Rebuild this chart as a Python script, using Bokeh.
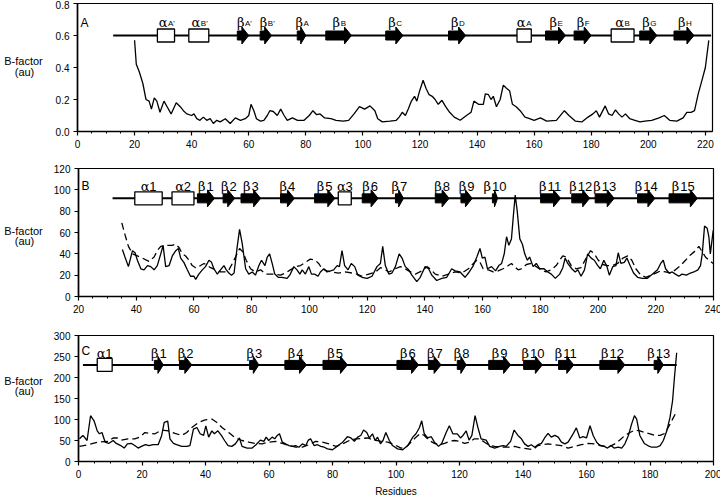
from bokeh.plotting import figure
from bokeh.models import Range1d, SingleIntervalTicker, NumeralTickFormatter, Label
from bokeh.layouts import column, row
from bokeh.core.properties import value
from bokeh.embed import file_html
from bokeh.resources import INLINE

SANS = "Liberation Sans"
GREEK = "DejaVu Serif"
FW = 635          # frame width (px)
LW = 50           # width of the left strip holding the y-axis title

# ---------------- Panel A data ----------------
a_res = [20.0, 20.6, 21.7, 22.9, 24.0, 25.1, 25.9, 26.9, 27.8, 28.9,
         30.3, 31.4, 32.8, 34.6, 36.0, 37.1, 38.3, 40.0, 40.8, 41.8,
         42.9, 44.1, 45.3, 46.5, 47.6, 48.8, 50.0, 51.8, 53.5, 55.3,
         57.1, 58.8, 60.0, 60.8, 61.8, 62.7, 64.1, 65.3, 66.5, 67.4,
         68.6, 70.0, 71.2, 72.4, 73.5, 75.3, 77.1, 79.4, 81.2, 82.5,
         83.8, 85.0, 86.6, 88.8, 90.6, 93.1, 95.0, 96.9, 98.8, 100.6,
         102.5, 104.2, 105.2, 106.8, 109.5, 111.7, 112.7, 113.8, 114.9, 115.9,
         117.0, 118.1, 118.9, 119.9, 121.1, 122.1, 123.2, 124.3, 125.3, 126.4,
         127.7, 129.0, 130.4, 132.0, 134.1, 136.3, 137.9, 138.9, 140.5, 142.2,
         142.9, 144.0, 144.9, 145.7, 146.8, 148.1, 149.2, 150.3, 151.4, 152.4,
         153.7, 155.1, 156.8, 158.4, 160.0, 162.2, 164.4, 167.8, 170.6, 172.2,
         174.4, 176.7, 178.9, 180.6, 181.8, 182.9, 184.9, 186.1, 187.3, 188.5,
         189.6, 190.8, 192.0, 193.5, 195.3, 197.1, 198.8, 201.2, 203.8, 205.6,
         207.5, 210.0, 212.2, 213.5, 215.0, 216.2, 217.5, 218.8, 220.0, 221.2]
a_bf = [0.57, 0.42, 0.37, 0.30, 0.20, 0.19, 0.14, 0.21, 0.19, 0.12,
        0.19, 0.155, 0.11, 0.18, 0.155, 0.13, 0.11, 0.10, 0.11, 0.08,
        0.07, 0.09, 0.07, 0.08, 0.05, 0.07, 0.06, 0.08, 0.05, 0.085,
        0.07, 0.08, 0.10, 0.17, 0.13, 0.08, 0.065, 0.07, 0.10, 0.13,
        0.125, 0.10, 0.14, 0.10, 0.07, 0.085, 0.07, 0.07, 0.10, 0.13,
        0.105, 0.11, 0.085, 0.08, 0.07, 0.065, 0.07, 0.11, 0.155, 0.14,
        0.16, 0.13, 0.08, 0.06, 0.065, 0.07, 0.09, 0.12, 0.10, 0.14,
        0.19, 0.22, 0.19, 0.255, 0.32, 0.27, 0.23, 0.22, 0.20, 0.17,
        0.195, 0.155, 0.12, 0.09, 0.07, 0.10, 0.12, 0.19, 0.17, 0.17,
        0.235, 0.23, 0.20, 0.22, 0.155, 0.20, 0.29, 0.27, 0.255, 0.17,
        0.155, 0.13, 0.09, 0.08, 0.07, 0.085, 0.065, 0.07, 0.13, 0.10,
        0.065, 0.06, 0.09, 0.11, 0.13, 0.09, 0.16, 0.11, 0.10, 0.135,
        0.11, 0.09, 0.11, 0.08, 0.07, 0.06, 0.065, 0.07, 0.085, 0.10,
        0.07, 0.065, 0.085, 0.12, 0.12, 0.13, 0.235, 0.32, 0.40, 0.57]

a_line = [12.5, 222.0]
a_helix_start = [28, 39, 154, 187]
a_helix_end = [34, 46, 159, 195]
a_helix_sub = ["A'", "B'", "A", "B"]
a_strand_start = [56, 64, 77, 87, 108, 130, 164, 174, 197, 209]
a_strand_end = [60, 68, 80, 96, 114, 136, 171, 180, 203, 216]
a_strand_sub = ["A'", "B'", "A", "B", "C", "D", "E", "F", "G", "H"]

# ---------------- Panel B data ----------------
b_res_solid = [35.2, 36.1, 37.3, 38.7, 39.6, 40.4, 41.6, 42.7, 43.9, 45.0,
               46.2, 47.3, 48.5, 49.3, 50.2, 51.4, 52.5, 53.7, 54.6, 55.4,
               56.5, 57.7, 58.8, 60.0, 60.6, 61.7, 62.9, 64.0, 65.2, 66.1,
               66.9, 68.1, 69.2, 70.4, 71.2, 72.1, 73.0, 73.9, 75.0, 75.8,
               76.7, 77.9, 79.0, 80.2, 81.3, 82.5, 83.4, 84.6, 85.4, 86.2,
               87.1, 88.0, 89.2, 90.5, 92.3, 93.4, 94.6, 95.7, 96.7, 97.5,
               98.6, 99.8, 100.7, 101.8, 103.0, 103.8, 105.0, 106.1, 107.3, 108.4,
               109.6, 110.4, 111.3, 112.2, 113.4, 114.5, 115.7, 116.8, 118.2, 120.0,
               121.7, 123.4, 124.6, 125.4, 126.3, 127.5, 128.6, 129.8, 131.1, 132.1,
               133.2, 134.4, 135.5, 137.2, 138.4, 140.1, 141.3, 142.4, 144.1, 145.9,
               147.6, 149.3, 150.5, 152.2, 153.9, 155.1, 156.8, 158.0, 159.1, 159.9,
               160.8, 161.7, 163.1, 164.5, 165.6, 166.6, 167.5, 168.3, 169.1, 170.0,
               170.7, 171.3, 172.0, 172.9, 173.8, 174.6, 175.5, 176.3, 177.5, 178.6,
               179.8, 181.3, 182.6, 183.8, 185.2, 186.7, 187.8, 188.6, 189.5, 190.9,
               192.1, 193.0, 194.1, 195.3, 196.4, 197.6, 198.7, 199.9, 200.8, 202.0,
               203.1, 203.9, 205.1, 206.2, 207.0, 207.9, 209.1, 210.0, 211.1, 212.3,
               213.7, 215.4, 217.1, 218.9, 220.6, 221.7, 222.6, 223.4, 224.6, 225.7,
               226.8, 228.0, 229.1, 230.6, 232.0, 233.2, 234.6, 235.5, 236.1, 236.9,
               237.8, 238.4, 238.9, 239.9]
b_bf_solid = [44, 37, 28, 43, 41, 34, 26, 25, 29, 28,
              25, 29, 40, 48, 28, 29, 38, 43, 45, 36,
              32, 25, 19, 19, 16, 21, 25, 28, 34, 32,
              26, 21, 25, 29, 25, 22, 20, 22, 47, 63,
              50, 26, 21, 23, 20, 29, 34, 29, 37, 40,
              31, 21, 18, 18, 17, 21, 28, 25, 21, 25,
              21, 28, 21, 21, 19, 23, 26, 23, 24, 25,
              29, 28, 43, 29, 25, 31, 28, 20, 18, 17,
              19, 28, 31, 47, 29, 21, 22, 28, 40, 36,
              28, 25, 20, 14, 18, 28, 26, 20, 15, 17,
              18, 26, 24, 23, 18, 22, 29, 37, 45, 36,
              37, 26, 28, 24, 29, 31, 40, 56, 48, 54,
              77, 95, 80, 54, 49, 40, 34, 37, 28, 31,
              26, 26, 23, 21, 17, 21, 27, 36, 31, 26,
              23, 25, 19, 25, 40, 36, 34, 29, 26, 34,
              28, 20, 28, 29, 41, 31, 32, 36, 29, 22,
              18, 17, 17, 21, 25, 31, 34, 26, 22, 23,
              21, 19, 21, 20, 22, 23, 25, 29, 40, 66,
              64, 56, 40, 62]
b_res_dash = [35.0, 36.1, 37.3, 38.7, 40.4, 42.1, 44.4, 46.2, 47.3, 48.5,
              50.2, 52.5, 53.7, 54.8, 56.0, 57.1, 58.3, 59.4, 60.6, 62.3,
              63.5, 64.6, 65.8, 67.5, 69.2, 71.0, 72.1, 73.3, 74.4, 75.8,
              76.9, 78.1, 79.6, 81.3, 83.1, 84.8, 86.5, 88.2, 90.0, 91.7,
              93.4, 95.2, 96.9, 98.6, 100.3, 102.0, 103.2, 104.4, 106.1, 107.8,
              110.1, 112.4, 114.8, 116.5, 118.3, 120.6, 122.9, 124.6, 125.7, 127.5,
              129.8, 131.5, 132.6, 134.4, 136.7, 139.0, 140.7, 141.8, 143.6, 145.9,
              148.2, 150.5, 152.8, 155.1, 156.8, 158.0, 159.1, 160.2, 162.0, 163.7,
              165.4, 167.1, 168.9, 170.0, 171.1, 172.3, 173.4, 175.2, 176.9, 178.6,
              180.3, 182.0, 183.8, 185.5, 186.7, 187.8, 189.0, 190.7, 192.4, 194.1,
              195.9, 197.4, 198.7, 200.1, 201.6, 203.3, 205.1, 206.8, 208.6, 210.3,
              211.7, 213.1, 214.8, 216.6, 218.3, 220.0, 221.7, 223.4, 225.1, 226.8,
              228.6, 230.3, 232.0, 233.8, 234.9, 236.1, 237.2, 238.4, 239.9]
b_bf_dash = [69, 58, 47, 40, 38, 36, 33, 37, 43, 47,
             48, 48, 49, 46, 40, 38, 34, 29, 27, 29,
             31, 29, 27, 25, 23, 23, 25, 31, 37, 45,
             42, 34, 26, 23, 25, 21, 21, 21, 20, 22,
             25, 28, 29, 32, 35, 34, 31, 26, 24, 23,
             22, 23, 22, 21, 19, 21, 23, 27, 26, 23,
             26, 28, 27, 24, 21, 24, 28, 26, 21, 19,
             21, 23, 22, 26, 31, 34, 32, 26, 25, 23,
             24, 26, 29, 31, 28, 25, 26, 30, 31, 28,
             25, 23, 25, 29, 34, 38, 37, 29, 26, 27,
             36, 43, 40, 34, 30, 29, 29, 31, 36, 38,
             34, 26, 20, 18, 20, 22, 24, 23, 22, 25,
             29, 34, 39, 43, 47, 42, 37, 34, 31]

b_line = [31.8, 240.0]
b_helix_start = [39.5, 52.4, 110.0]
b_helix_end = [49.0, 60.0, 114.5]
b_helix_num = ["1", "2", "3"]
b_strand_start = [61.2, 70.1, 76.3, 90.0, 101.8, 118.3, 129.8, 143.6, 152.5, 163.4,
                  180.1, 190.9, 199.0, 213.7, 224.6]
b_strand_end = [67.1, 74.1, 83.1, 94.8, 108.8, 123.8, 132.6, 148.4, 156.4, 165.2,
                187.0, 197.1, 205.6, 219.7, 234.4]
b_strand_num = [str(i) for i in range(1, 16)]

# ---------------- Panel C data ----------------
c_res_solid = [0.3, 1.4, 2.7, 3.8, 4.9, 5.9, 6.6, 7.4, 8.4, 9.5,
               10.9, 11.9, 13.3, 14.4, 15.4, 16.7, 17.7, 18.8, 19.8, 21.1,
               22.2, 23.5, 25.1, 26.2, 27.0, 28.1, 28.8, 29.9, 30.9, 32.5,
               34.1, 35.1, 36.2, 37.3, 38.3, 39.4, 40.1, 41.0, 42.0, 42.8,
               43.9, 45.0, 46.0, 47.1, 48.3, 49.4, 50.7, 51.5, 53.1, 54.7,
               55.9, 57.3, 58.4, 59.1, 59.9, 61.0, 61.8, 62.6, 63.3, 64.2,
               65.2, 66.3, 67.3, 68.4, 69.4, 70.5, 71.6, 72.4, 73.1, 74.2,
               75.3, 76.3, 77.4, 78.4, 80.0, 81.1, 82.1, 83.2, 84.7, 85.8,
               86.9, 87.9, 88.9, 89.8, 90.8, 91.6, 92.6, 93.4, 94.2, 95.1,
               95.9, 96.8, 97.9, 98.9, 100.5, 102.1, 103.7, 105.3, 106.3, 107.4,
               108.1, 108.9, 110.0, 111.1, 112.1, 113.4, 114.4, 115.8, 116.8, 117.9,
               119.3, 120.3, 121.1, 122.1, 123.0, 123.9, 124.9, 125.8, 126.8, 128.4,
               129.5, 131.1, 132.6, 133.7, 134.7, 136.1, 137.2, 138.4, 139.5, 140.5,
               141.6, 142.6, 143.7, 144.7, 145.8, 146.8, 147.9, 148.9, 150.0, 151.1,
               152.1, 153.2, 154.2, 155.5, 156.8, 157.9, 158.9, 160.0, 161.1, 162.1,
               163.2, 164.2, 165.6, 166.6, 167.7, 168.7, 170.0, 171.1, 172.1, 173.2,
               174.2, 175.1, 175.8, 176.8, 178.2, 179.3, 180.5, 182.1, 183.2, 184.2,
               185.3, 186.3, 187.1, 187.7, 188.4]
c_bf_solid = [54, 62, 50, 109, 97, 73, 66, 69, 46, 43,
              50, 43, 38, 32, 42, 43, 38, 32, 36, 40,
              38, 40, 40, 62, 93, 96, 54, 43, 40, 36,
              36, 38, 77, 81, 66, 62, 85, 58, 73, 66,
              73, 62, 50, 38, 36, 42, 56, 36, 32, 32,
              40, 51, 48, 58, 50, 58, 54, 62, 66, 46,
              42, 38, 36, 38, 34, 42, 38, 51, 54, 38,
              40, 36, 34, 30, 28, 34, 40, 46, 59, 56,
              48, 58, 62, 75, 69, 56, 66, 50, 58, 42,
              50, 69, 50, 38, 30, 28, 38, 58, 66, 81,
              97, 66, 56, 59, 46, 36, 43, 69, 85, 66,
              66, 56, 62, 73, 51, 62, 109, 81, 54, 51,
              36, 32, 36, 38, 36, 48, 75, 62, 54, 42,
              36, 40, 34, 40, 43, 56, 67, 58, 62, 58,
              46, 42, 46, 62, 80, 56, 59, 56, 85, 62,
              46, 38, 36, 32, 38, 32, 34, 32, 42, 62,
              89, 109, 101, 62, 43, 38, 34, 34, 38, 50,
              73, 105, 144, 200, 259]
c_res_dash = [0.3, 3.0, 6.1, 9.3, 10.9, 12.2, 13.5, 15.6, 17.7, 19.3,
              20.9, 22.5, 24.1, 26.2, 28.3, 30.4, 32.5, 34.1, 35.7, 37.8,
              39.9, 42.0, 43.6, 45.2, 47.3, 49.4, 51.5, 53.6, 55.7, 57.8,
              59.9, 62.1, 64.2, 66.3, 68.4, 70.5, 72.6, 74.7, 76.8, 78.9,
              81.1, 83.2, 85.3, 87.4, 89.5, 91.0, 93.2, 95.3, 97.4, 99.5,
              101.6, 103.2, 104.7, 106.3, 107.7, 108.9, 110.5, 112.1, 113.7, 115.3,
              116.8, 118.4, 120.0, 121.6, 123.2, 124.7, 126.3, 127.9, 129.5, 131.1,
              133.2, 135.3, 137.4, 139.5, 141.6, 143.2, 144.7, 146.3, 147.9, 150.0,
              152.1, 154.2, 156.3, 158.4, 160.5, 162.6, 164.7, 166.8, 168.9, 170.5,
              172.1, 173.7, 175.3, 176.8, 178.4, 180.0, 181.6, 183.2, 184.7, 186.3,
              187.4, 188.4]
c_bf_dash = [36, 40, 46, 48, 56, 56, 51, 54, 54, 58,
             69, 67, 66, 75, 73, 67, 62, 69, 81, 93,
             99, 101, 93, 81, 69, 56, 50, 46, 43, 42,
             46, 48, 43, 38, 34, 34, 40, 48, 46, 42,
             36, 42, 50, 54, 55, 56, 51, 48, 46, 40,
             32, 34, 46, 58, 67, 62, 50, 43, 40, 43,
             48, 50, 48, 43, 46, 54, 54, 46, 38, 36,
             34, 34, 36, 32, 30, 28, 38, 40, 42, 40,
             38, 32, 36, 40, 43, 42, 38, 34, 42, 51,
             62, 69, 75, 73, 69, 66, 62, 62, 67, 89,
             105, 119]

c_line = [1.4, 188.4]
c_helix_start = [5.9]
c_helix_end = [10.6]
c_helix_num = ["1"]
c_strand_start = [23.9, 31.8, 53.9, 65.0, 77.0, 100.3, 110.2, 119.3, 129.2, 140.2,
                  151.2, 164.2, 181.3]
c_strand_end = [26.7, 35.7, 56.8, 71.8, 84.7, 107.1, 114.2, 122.1, 136.1, 146.1,
                156.0, 172.1, 184.2]
c_strand_num = [str(i) for i in range(1, 14)]


def make_panel(xr, yr, fh, bt, bb, yint, yfmt=None):
    p = figure(frame_width=FW, frame_height=fh,
               x_range=Range1d(*xr), y_range=Range1d(*yr),
               output_backend="svg", toolbar_location=None,
               min_border_left=77 - LW, min_border_right=720 - 77 - FW,
               min_border_top=bt, min_border_bottom=bb)
    p.grid.visible = False
    p.outline_line_color = "black"
    p.outline_line_width = 1.2
    p.background_fill_color = "white"
    p.border_fill_color = "white"
    xa = p.xaxis[0]
    xa.ticker = SingleIntervalTicker(interval=20, num_minor_ticks=4)
    ya = p.yaxis[0]
    ya.ticker = SingleIntervalTicker(interval=yint, num_minor_ticks=0)
    if yfmt:
        ya.formatter = NumeralTickFormatter(format=yfmt)
    for ax in (xa, ya):
        ax.axis_line_color = "black"
        ax.axis_line_width = 1.6
        ax.major_tick_line_color = "black"
        ax.major_tick_line_width = 1.2
        ax.major_tick_out = 4
        ax.major_tick_in = 0
        ax.minor_tick_line_color = "black"
        ax.minor_tick_line_width = 1
        ax.minor_tick_out = 2
        ax.minor_tick_in = 0
        ax.major_label_text_font = SANS
        ax.major_label_text_font_size = "10px"
        ax.major_label_text_color = "black"
        ax.major_label_standoff = 4
    ya.minor_tick_line_color = None
    return p


def title_strip(height, canvas_top, y_bfactor, y_au):
    f = figure(width=LW, height=height, x_range=Range1d(0, LW), y_range=Range1d(0, height),
               output_backend="svg", toolbar_location=None, min_border=0,
               x_axis_location=None, y_axis_location=None)
    f.grid.visible = False
    f.outline_line_color = None
    f.background_fill_color = "white"
    f.border_fill_color = "white"
    f.text(x=[23, 24], y=[height - (y_bfactor - canvas_top), height - (y_au - canvas_top)],
           text=["B-factor", "(au)"], text_align="center", text_baseline="middle",
           text_font=value(SANS), text_font_size="11px", text_color="black")
    return f


def draw_structure(p, fh, xr, yr, level, line_x, h_start, h_end, s_start, s_end):
    dx = (xr[1] - xr[0]) / FW
    dy = (yr[1] - yr[0]) / fh
    p.line(line_x, [level, level], line_color="black", line_width=2)
    xs, ys = [], []
    for s, e in zip(s_start, s_end):
        hl = min(7 * dx, 0.6 * (e - s))
        bh, hh = 4.5 * dy, 8.5 * dy
        xs.append([s, e - hl, e - hl, e, e - hl, e - hl, s])
        ys.append([level - bh, level - bh, level - hh, level, level + hh, level + bh, level + bh])
    p.patches(xs, ys, fill_color="black", line_color="black", line_width=1)
    hc = [(s + e) / 2 for s, e in zip(h_start, h_end)]
    hw = [e - s for s, e in zip(h_start, h_end)]
    p.rect(x=hc, y=[level] * len(hc), width=hw, height=13, height_units="screen",
           fill_color="white", line_color="black", line_width=1.3)


def numbered_labels(p, centers, level, greek, nums, yoff):
    g_off, n_off = [], []
    for n in nums:
        tot = 8.5 + 7.2 * len(n)
        g_off.append(-tot / 2)
        n_off.append(-tot / 2 + 8.5)
    p.text(x=centers, y=[level] * len(centers), text=greek, x_offset=g_off, y_offset=yoff,
           text_align="left", text_baseline="alphabetic", text_font=value(GREEK),
           text_font_size="13px", text_color="black")
    p.text(x=centers, y=[level] * len(centers), text=nums, x_offset=n_off, y_offset=yoff,
           text_align="left", text_baseline="alphabetic", text_font=value(SANS),
           text_font_size="13px", text_color="black")


def panel_letter(p, fh, letter, below_top):
    p.add_layout(Label(x=3, y=fh - below_top, x_units="screen", y_units="screen", text=letter,
                       text_baseline="top", text_align="left", text_font=SANS,
                       text_font_size="12px", text_color="black"))


# ---------------- Panel A ----------------
xrA, yrA, fhA = (0, 222.5), (0, 0.8), 128
topA, botA = 3, 21
pA = make_panel(xrA, yrA, fhA, topA, botA, 0.2, "0.0")
levA = 0.6
draw_structure(pA, fhA, xrA, yrA, levA, a_line, a_helix_start, a_helix_end,
               a_strand_start, a_strand_end)
a_centers = ([(s + e) / 2 for s, e in zip(a_helix_start, a_helix_end)] +
             [(s + e) / 2 for s, e in zip(a_strand_start, a_strand_end)])
a_greek = ["α"] * len(a_helix_start) + ["β"] * len(a_strand_start)
a_subs = a_helix_sub + a_strand_sub
pA.text(x=a_centers, y=[levA] * len(a_centers), text=a_greek, x_offset=1.5, y_offset=-13,
        text_align="right", text_baseline="alphabetic", text_font=value(GREEK),
        text_font_size="13px", text_color="black")
pA.text(x=a_centers, y=[levA] * len(a_centers), text=a_subs, x_offset=2, y_offset=-12,
        text_align="left", text_baseline="alphabetic", text_font=value(SANS),
        text_font_size="8px", text_color="black")
pA.line(a_res, a_bf, line_color="black", line_width=1.3)
panel_letter(pA, fhA, "A", 12)
hA = topA + fhA + botA
sA = title_strip(hA, 0, 68, 81)

# ---------------- Panel B ----------------
xrB, yrB, fhB = (20, 240), (0, 120), 128
topB, botB = 16, 21
pB = make_panel(xrB, yrB, fhB, topB, botB, 20)
levB = 92
draw_structure(pB, fhB, xrB, yrB, levB, b_line, b_helix_start, b_helix_end,
               b_strand_start, b_strand_end)
numbered_labels(pB, [(s + e) / 2 for s, e in zip(b_helix_start, b_helix_end)], levB,
                ["α"] * len(b_helix_num), b_helix_num, -12)
numbered_labels(pB, [(s + e) / 2 for s, e in zip(b_strand_start, b_strand_end)], levB,
                ["β"] * len(b_strand_num), b_strand_num, -12)
pB.line(b_res_dash, b_bf_dash, line_color="black", line_width=1.3, line_dash="7 4")
pB.line(b_res_solid, b_bf_solid, line_color="black", line_width=1.3)
panel_letter(pB, fhB, "B", 10)
hB = topB + fhB + botB
sB = title_strip(hB, hA, 232, 246)

# ---------------- Panel C ----------------
xrC, yrC, fhC = (0, 200), (0, 300), 126
topC, botC = 18, 38
pC = make_panel(xrC, yrC, fhC, topC, botC, 50)
levC = 230
draw_structure(pC, fhC, xrC, yrC, levC, c_line, c_helix_start, c_helix_end,
               c_strand_start, c_strand_end)
numbered_labels(pC, [(s + e) / 2 for s, e in zip(c_helix_start, c_helix_end)], levC,
                ["α"] * len(c_helix_num), c_helix_num, -11)
numbered_labels(pC, [(s + e) / 2 for s, e in zip(c_strand_start, c_strand_end)], levC,
                ["β"] * len(c_strand_num), c_strand_num, -11)
pC.line(c_res_dash, c_bf_dash, line_color="black", line_width=1.3, line_dash="7 4")
pC.line(c_res_solid, c_bf_solid, line_color="black", line_width=1.3)
panel_letter(pC, fhC, "C", 8)
pC.xaxis.axis_label = "Residues"
pC.xaxis.axis_label_text_font = SANS
pC.xaxis.axis_label_text_font_size = "10px"
pC.xaxis.axis_label_text_font_style = "normal"
pC.xaxis.axis_label_text_color = "black"
pC.xaxis.axis_label_standoff = 5
hC = topC + fhC + botC
sC = title_strip(hC, hA + hB, 383, 397)

layout = column(row(sA, pA, spacing=0), row(sB, pB, spacing=0), row(sC, pC, spacing=0),
                spacing=0)
open("out.html", "w").write(file_html(layout, INLINE))
